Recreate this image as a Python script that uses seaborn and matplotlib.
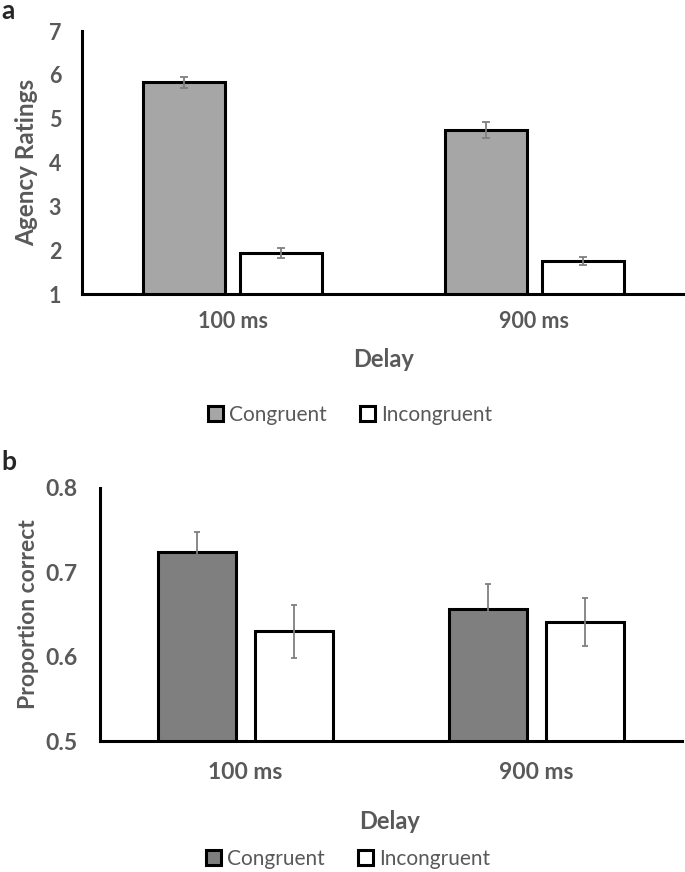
import pandas as pd
import seaborn as sns
import matplotlib.pyplot as plt
from matplotlib.ticker import FormatStrFormatter

# Veriler
delays = ['100 ms', '900 ms']
conditions = ['Congruent', 'Incongruent']

agency_congruent = [5.83, 4.74]
agency_incongruent = [1.94, 1.75]
agency_err_congruent = [0.13, 0.18]
agency_err_incongruent = [0.11, 0.09]

prop_congruent = [0.724, 0.657]
prop_incongruent = [0.630, 0.641]
prop_err_congruent = [0.024, 0.029]
prop_err_incongruent = [0.031, 0.028]

df_a = pd.DataFrame({
    'Delay': delays * 2,
    'Condition': ['Congruent'] * 2 + ['Incongruent'] * 2,
    'Value': agency_congruent + agency_incongruent,
})
df_b = pd.DataFrame({
    'Delay': delays * 2,
    'Condition': ['Congruent'] * 2 + ['Incongruent'] * 2,
    'Value': prop_congruent + prop_incongruent,
})

sns.set_style('white')
plt.rcParams['font.family'] = ['Lato', 'DejaVu Sans']

TEXT = '#595959'
W, H = 685, 872
fig = plt.figure(figsize=(W / 100, H / 100), dpi=100)


def panel(ax, df, colors, errs, width, gap, ylim, yticks, ylabel, capsize,
          ticksize, ylabsize):
    sns.barplot(data=df, x='Delay', y='Value', hue='Condition', hue_order=conditions,
                palette=colors, edgecolor='black', linewidth=2.2, width=width, gap=gap,
                errorbar=None, ax=ax, legend=True)
    # Hata çubukları
    for cont, err in zip(ax.containers, errs):
        for bar, e in zip(cont, err):
            x = bar.get_x() + bar.get_width() / 2
            ax.errorbar(x, bar.get_height(), yerr=e, color='#7f7f7f', lw=1.3,
                        capsize=capsize, capthick=1.3, zorder=5)
    ax.set_xlim(-0.5, 1.5)
    ax.set_ylim(*ylim)
    ax.set_yticks(yticks)
    sns.despine(ax=ax)
    for s in ['left', 'bottom']:
        ax.spines[s].set_color('black')
        ax.spines[s].set_linewidth(2.2)
    ax.tick_params(length=0, labelcolor=TEXT, labelsize=ticksize)
    for lab in ax.get_xticklabels() + ax.get_yticklabels():
        lab.set_fontweight('bold')
    ax.set_ylabel(ylabel, fontsize=ylabsize, fontweight='bold', color=TEXT)
    ax.set_xlabel('Delay', fontsize=17, fontweight='bold', color=TEXT, va='top')
    ax.get_legend().remove()


# Panel a
ax1 = fig.add_axes([82 / W, 1 - 294 / H, 603 / W, 263 / H])
panel(ax1, df_a, ['#a6a6a6', '#ffffff'], [agency_err_congruent, agency_err_incongruent],
      0.644, 0.155, (1, 7), range(1, 8), 'Agency Ratings', 3, 15.5, 17.5)
ax1.tick_params(axis='y', pad=15)
ax1.tick_params(axis='x', pad=12)
ax1.yaxis.set_label_coords((38 - 82) / 603, 0.5)
ax1.xaxis.set_label_coords(0.5, (294 - 348) / 263)
h, l = ax1.get_legend_handles_labels()
fig.legend(h, l, loc='center', bbox_to_anchor=(350 / W, 1 - 415 / H), ncol=2,
           frameon=False, fontsize=15, labelcolor=TEXT, handlelength=0.7,
           handleheight=0.7, handletextpad=0.3, columnspacing=1.6)

# Panel b
ax2 = fig.add_axes([100 / W, 1 - 741 / H, 582 / W, 253 / H])
panel(ax2, df_b, ['#7f7f7f', '#ffffff'], [prop_err_congruent, prop_err_incongruent],
      0.67, 0.2, (0.5, 0.8), [0.5, 0.6, 0.7, 0.8], 'Proportion correct', 2.5, 16.5, 16.5)
ax2.yaxis.set_major_formatter(FormatStrFormatter('%.1f'))
for lab in ax2.get_yticklabels():
    lab.set_fontweight('bold')
ax2.tick_params(axis='y', pad=16)
ax2.tick_params(axis='x', pad=15)
ax2.yaxis.set_label_coords((39 - 100) / 582, 0.5)
ax2.xaxis.set_label_coords(0.497, (741 - 810) / 253)
h, l = ax2.get_legend_handles_labels()
fig.legend(h, l, loc='center', bbox_to_anchor=(348 / W, 1 - 859 / H), ncol=2,
           frameon=False, fontsize=15, labelcolor=TEXT, handlelength=0.7,
           handleheight=0.7, handletextpad=0.3, columnspacing=1.6)

# Panel harfleri
fig.text(1 / W, 1 - 11 / H, 'a', fontsize=19, fontweight='bold', va='center', ha='left')
fig.text(1 / W, 1 - 462 / H, 'b', fontsize=19, fontweight='bold', va='center', ha='left')

fig.savefig('out.png', dpi=100)
